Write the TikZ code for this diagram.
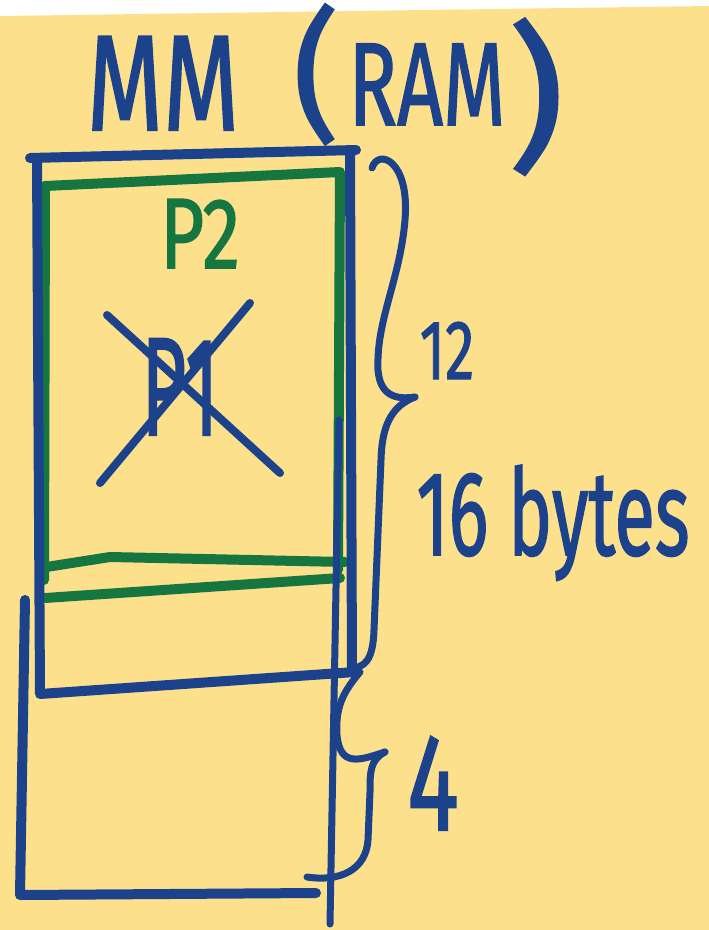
\documentclass[tikz,border=0pt]{standalone}
\usepackage{fontspec}
\setmainfont{Fira Sans}
\newfontfamily\penfont{Fira Sans}[FakeBold=1.5]
\usepackage{graphicx}
\usetikzlibrary{calc}
\definecolor{pen}{HTML}{1D428C}
\definecolor{leaf}{HTML}{16763F}
\definecolor{note}{HTML}{FCE08C}
\newcommand{\hw}[3]{\scalebox{#1}[1]{\fontsize{#2}{#2}\penfont #3}}
\tikzset{
  ink/.style={draw=pen,line width=10pt,line cap=round,line join=round},
  gink/.style={ink,draw=leaf},
  brc/.style={ink,line width=7pt},
  lbl/.style={inner sep=0pt,anchor=base,text=pen},
  glbl/.style={lbl,text=leaf},
}

\begin{document}
\begin{tikzpicture}[x=1pt,y=-1pt]
\useasboundingbox (0,0) rectangle (709,930);
\fill[white] (0,0) rectangle (709,930);
\fill[note] (0,16) -- (709,6) -- (709,930) -- (0,930) -- cycle;

% title
\node[lbl] (mm) at (163,130) {\hw{0.72}{136}{MM}};
\node[lbl] (lpar) at (316,124) {\hw{1.0}{142}{(}};
\node[lbl] (ram) at (427,125) {\hw{0.68}{118}{RAM}};
\node[lbl] (rpar) at (536,152) {\hw{1.1}{158}{)}};

% green block
\draw[gink] (45,186) -- (340,172) -- (338,570);
\draw[gink] (45,186) -- (44,580);
\draw[gink] (40,568) -- (110,557) -- (345,562);
\draw[gink] (45,598) -- (340,578);
\node[glbl] (p2) at (200,268) {\hw{0.76}{100}{P2}};

% memory column
\draw[ink] (30,158) -- (356,150);
\draw[ink] (37,158) -- (40,694) -- (355,672);
\draw[ink] (350,152) -- (352,668);
\draw[brc] (339,420) -- (330,924);
\draw[ink] (25,600) -- (20,895) -- (316,893);

% old process, crossed out
\node[lbl] (p1) at (180,435) {\hw{0.55}{140}{P1}};
\draw[ink,line width=8pt] (107,315) -- (280,473);
\draw[ink,line width=8pt] (250,303) -- (100,483);

% braces
\coordinate (b1top) at (372,168);
\coordinate (b1tip) at (415,397);
\coordinate (b1bot) at (350,668);
\coordinate (b2top) at (360,672);
\coordinate (b2tip) at (385,752);
\coordinate (b2bot) at (307,877);
\draw[brc] (b1top) .. controls (378,148) and (410,160) .. (405,220)
  .. controls (400,280) and (376,320) .. (378,370)
  .. controls (380,395) and (395,400) .. (b1tip);
\draw[brc] (b1tip) .. controls (395,405) and (382,420) .. (381,460)
  -- (374,630) .. controls (373,660) and (365,668) .. (b1bot);
\draw[brc] (b2top) .. controls (345,690) and (335,705) .. (337,735)
  .. controls (340,768) and (360,760) .. (b2tip);
\draw[brc] (b2tip) .. controls (370,760) and (370,772) .. (370,792)
  -- (368,840) .. controls (366,870) and (340,882) .. (b2bot);

\node[lbl] (twelve) at (447,379) {\hw{0.7}{84}{12}};
\node[lbl] (bytes) at (553,555) {\hw{0.62}{120}{16 bytes}};
\node[lbl] (four) at (433,830) {\hw{0.7}{138}{4}};
\end{tikzpicture}
\end{document}
